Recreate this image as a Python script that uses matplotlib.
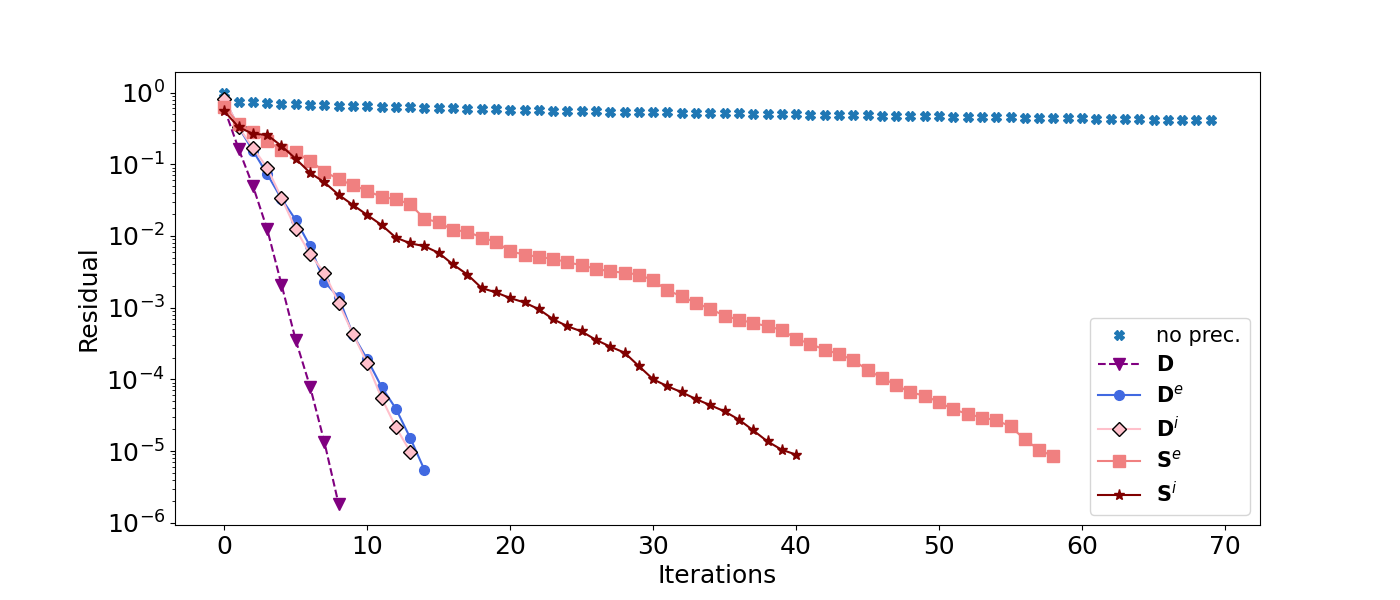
import matplotlib
matplotlib.use("Agg")
import matplotlib.pyplot as plt
import numpy as np

# --- data ---
noprec = [1.0, 0.74, 0.73, 0.71, 0.70, 0.69, 0.68, 0.67, 0.66, 0.65,
          0.645, 0.635, 0.63, 0.62, 0.615, 0.61, 0.60, 0.595, 0.59, 0.585,
          0.575, 0.57, 0.565, 0.56, 0.555, 0.55, 0.547, 0.544, 0.54, 0.537,
          0.534, 0.53, 0.527, 0.524, 0.52, 0.515, 0.512, 0.508, 0.505, 0.501,
          0.498, 0.494, 0.491, 0.488, 0.484, 0.481, 0.478, 0.475, 0.472, 0.469,
          0.466, 0.463, 0.460, 0.457, 0.454, 0.451, 0.448, 0.445, 0.442, 0.439,
          0.436, 0.433, 0.430, 0.427, 0.424, 0.421, 0.418, 0.415, 0.413, 0.41]

D = [0.6, 0.164, 0.05, 0.0124, 0.0021, 3.5e-4, 7.9e-5, 1.33e-5, 1.8e-6]

De = [0.8, 0.33, 0.155, 0.073, 0.033, 0.0167, 0.0072, 0.0023, 0.00139,
      4.2e-4, 1.9e-4, 7.85e-5, 3.9e-5, 1.53e-5, 5.45e-6]

Di = [0.82, 0.33, 0.17, 0.089, 0.034, 0.0124, 0.0056, 0.00305, 0.00116,
      4.3e-4, 1.67e-4, 5.5e-5, 2.15e-5, 9.8e-6]

Se = [0.63, 0.37, 0.28, 0.21, 0.159, 0.147, 0.112, 0.079, 0.062, 0.051,
      0.0427, 0.0351, 0.0326, 0.0277, 0.0174, 0.0155, 0.0121, 0.0115, 0.0095, 0.0083,
      0.0061, 0.0055, 0.0051, 0.0048, 0.0043, 0.0039, 0.00347, 0.00322, 0.00306, 0.0029,
      0.0024, 0.00174, 0.00144, 0.00116, 9.6e-4, 7.7e-4, 6.8e-4, 6.1e-4, 5.5e-4, 4.9e-4,
      3.7e-4, 3.1e-4, 2.6e-4, 2.25e-4, 1.85e-4, 1.35e-4, 1.05e-4, 8.3e-5, 6.6e-5, 5.9e-5,
      4.8e-5, 3.8e-5, 3.3e-5, 2.93e-5, 2.69e-5, 2.2e-5, 1.45e-5, 1.04e-5, 8.4e-6]

Si = [0.55, 0.33, 0.266, 0.257, 0.18, 0.119, 0.076, 0.056, 0.0375, 0.027,
      0.0196, 0.0142, 0.0095, 0.0079, 0.0072, 0.0058, 0.004, 0.0029, 0.00188, 0.00163,
      0.00136, 0.00118, 9.5e-4, 6.9e-4, 5.5e-4, 4.65e-4, 3.55e-4, 2.86e-4, 2.35e-4, 1.53e-4,
      1.0e-4, 8.0e-5, 6.6e-5, 5.3e-5, 4.35e-5, 3.57e-5, 2.74e-5, 1.94e-5, 1.36e-5, 1.04e-5,
      8.9e-6]

labels = ["no prec.", r"$\mathbf{D}$", r"$\mathbf{D}^e$", r"$\mathbf{D}^i$",
          r"$\mathbf{S}^e$", r"$\mathbf{S}^i$"]

fig = plt.figure(figsize=(14, 6), dpi=100)
ax = fig.add_axes([0.125, 0.125, 0.775, 0.755])

ax.semilogy(np.arange(len(noprec)), noprec, linestyle="none", marker="X",
            color="#1f77b4", markersize=7, label=labels[0])
ax.semilogy(np.arange(len(D)), D, linestyle="--", marker="v", color="purple",
            markersize=8, label=labels[1])
ax.semilogy(np.arange(len(De)), De, linestyle="-", marker="o", color="royalblue",
            markersize=7, label=labels[2])
ax.semilogy(np.arange(len(Di)), Di, linestyle="-", marker="D", color="pink",
            markerfacecolor="pink", markeredgecolor="black", markersize=7,
            label=labels[3])
ax.semilogy(np.arange(len(Se)), Se, linestyle="-", marker="s", color="lightcoral",
            markersize=8, label=labels[4])
ax.semilogy(np.arange(len(Si)), Si, linestyle="-", marker="*", color="maroon",
            markersize=8, label=labels[5])

ax.set_xlabel("Iterations", fontsize=18)
ax.set_ylabel("Residual", fontsize=18)
ax.tick_params(axis="both", labelsize=18)
ax.legend(loc="lower right", fontsize=15, labelspacing=0.44)

fig.savefig("out.png", dpi=100)
